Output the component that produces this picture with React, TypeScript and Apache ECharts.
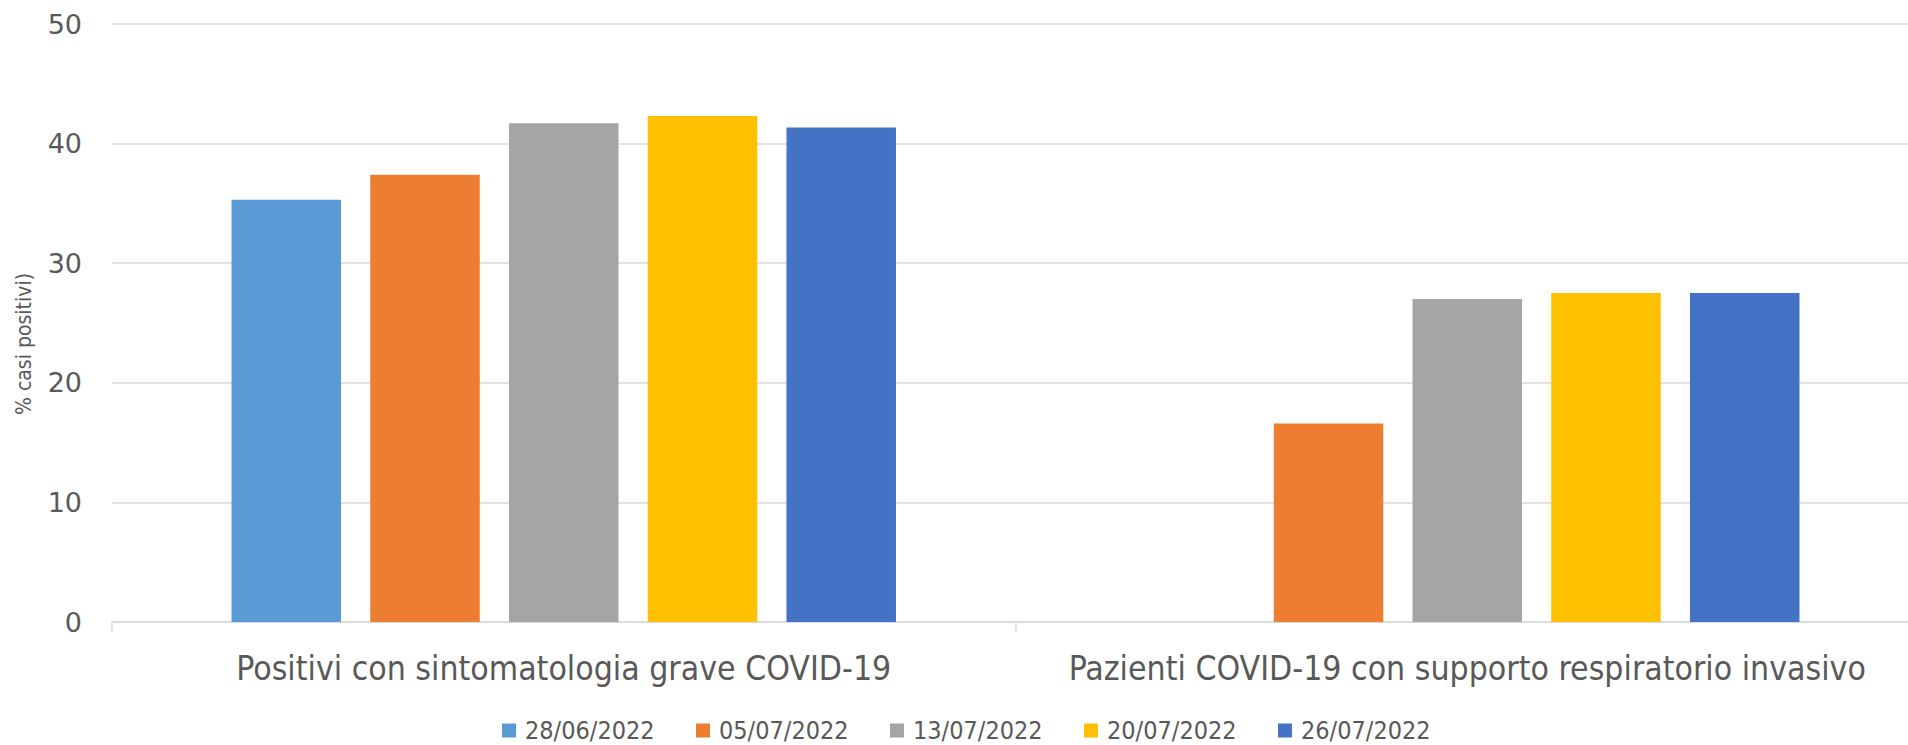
import React, { useEffect, useRef } from "react";
import * as echarts from "echarts";

const categories = [
  "Positivi con sintomatologia grave COVID-19",
  "Pazienti COVID-19 con supporto respiratorio invasivo",
];
const seriesNames = ["28/06/2022", "05/07/2022", "13/07/2022", "20/07/2022", "26/07/2022"];
const values280622 = [35.3, null];
const values050722 = [37.4, 16.6];
const values130722 = [41.7, 27.0];
const values200722 = [42.3, 27.5];
const values260722 = [41.35, 27.5];
const seriesValues = [values280622, values050722, values130722, values200722, values260722];
const colors = ["#5B9BD5", "#ED7D31", "#A5A5A5", "#FFC000", "#4472C4"];
const yMin = 0;
const yMax = 50;
const yInterval = 10;
const yAxisTitle = "% casi positivi)";

const LABEL_FONT = "'Liberation Sans Narrow', 'DejaVu Sans Condensed', 'Open Sans', sans-serif";

export default function App() {
  const ref = useRef<HTMLDivElement>(null);
  useEffect(() => {
    if (!ref.current) return;
    const chart = echarts.init(ref.current, undefined, { renderer: "svg" });
    chart.setOption({
      animation: false,
      backgroundColor: "#ffffff",
      grid: {
        left: 112,
        top: 24,
        width: 1807,
        height: 598,
        containLabel: false,
        outerBoundsMode: "none",
      },
      legend: {
        data: seriesNames,
        left: 502,
        top: 718,
        padding: 0,
        itemWidth: 14,
        itemHeight: 14,
        itemGap: 35,
        icon: "rect",
        textStyle: {
          fontFamily: LABEL_FONT,
          fontSize: 25,
          lineHeight: 22,
          color: "#595959",
          width: 136,
          padding: [0, 0, 0, 4],
        },
      },
      xAxis: {
        type: "category",
        data: categories,
        axisLine: { lineStyle: { color: "#D9D9D9", width: 1.5 } },
        axisTick: { show: true, length: 9, lineStyle: { color: "#D9D9D9", width: 1.5 } },
        axisLabel: { fontFamily: LABEL_FONT, fontSize: 33.5, color: "#595959", margin: 29, interval: 0 },
        splitLine: { show: false },
      },
      yAxis: {
        type: "value",
        min: yMin,
        max: yMax,
        interval: yInterval,
        axisLine: { show: false },
        axisTick: { show: false },
        axisLabel: { fontFamily: "'DejaVu Sans', sans-serif", fontSize: 27, color: "#595959", margin: 30 },
        splitLine: { lineStyle: { color: "#D9D9D9", width: 1.5 } },
      },
      graphic: [
        {
          type: "text",
          x: 24,
          y: 344,
          rotation: Math.PI / 2,
          style: {
            text: yAxisTitle,
            fontFamily: LABEL_FONT,
            fontSize: 21,
            fill: "#595959",
            align: "center",
            verticalAlign: "middle",
          },
        },
      ],
      series: seriesNames.map((name, i) => ({
        name,
        type: "bar",
        data: seriesValues[i],
        barWidth: 109.5,
        barGap: "26.7%",
        itemStyle: { color: colors[i] },
      })),
    });
    return () => chart.dispose();
  }, []);
  return (
    <div
      ref={ref}
      style={{ position: "fixed", left: 0, top: 0, width: 1908, height: 745 }}
    />
  );
}
